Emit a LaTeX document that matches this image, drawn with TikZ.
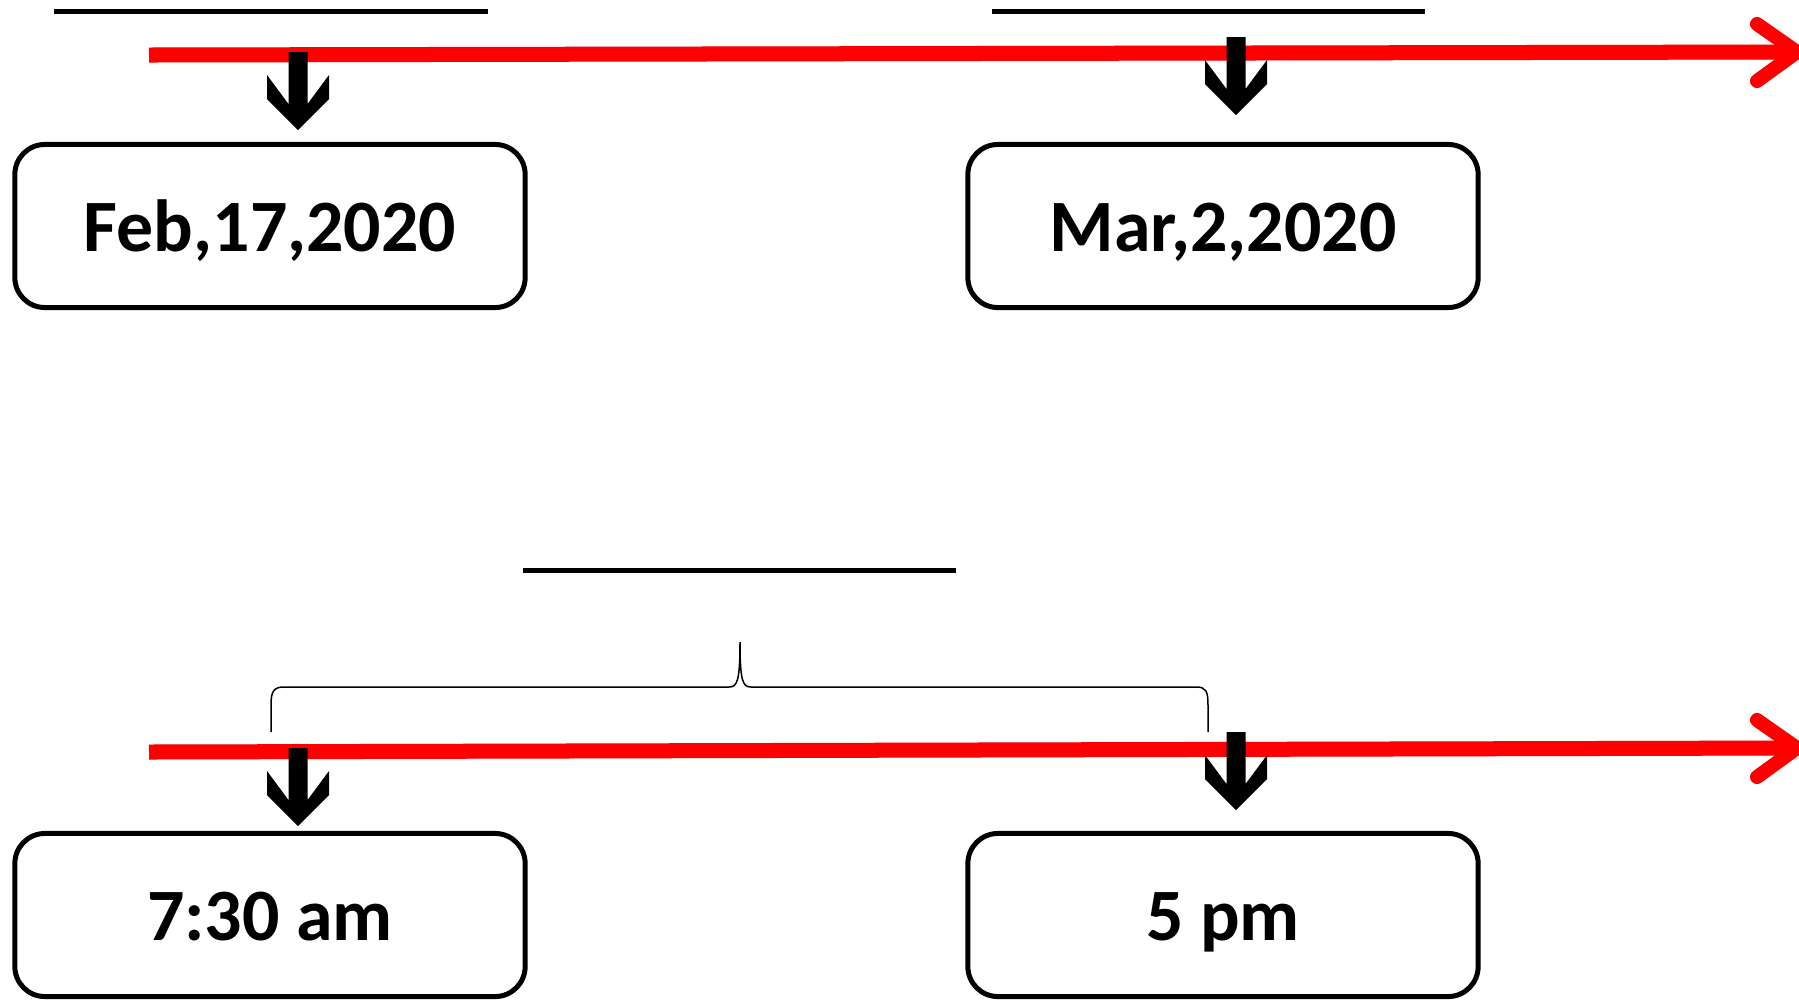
\documentclass[tikz,border=0pt]{standalone}
\usepackage{fontspec}
\setmainfont{Carlito}
\usepackage{tikz}
\usetikzlibrary{positioning}

\begin{document}
\begin{tikzpicture}[x=0.01cm, y=-0.01cm]
			\tikzstyle{Box}		= [rectangle, rounded corners=0.3cm, draw, line width=0.05cm, minimum width=5.1cm, minimum height=1.63cm, inner sep=0pt, text height=14.6pt, text depth=0pt, font=\fontsize{21}{25}\selectfont\bfseries]
			\tikzstyle{Blank}	= [line width=0.05cm, black]
			\tikzstyle{Axis}	= [line width=0.15cm, red]
			\tikzstyle{AxisHead}	= [line width=0.14cm, red, line cap=round, line join=round]
			\tikzstyle{Shadow}	= [gray!30, shift={(2,5)}]
			\tikzstyle{Pointer}	= [fill=black]
			\tikzstyle{Brace}	= [line width=0.015cm]

			\useasboundingbox (0,0) rectangle (1799,999);

			\node (d1) at (270,226) [Box] {Feb,17,2020};
			\node (d2) at (1223,226) [Box] {Mar,2,2020};
			\node (t1) at (270,915) [Box] {7:30 am};
			\node (t2) at (1223,915) [Box] {5 pm};

			\coordinate (s1) at (149,55);
			\coordinate (e1) at (1797,52);
			\coordinate (w1a) at (1757,24);
			\coordinate (w1b) at (1757,81);
			\coordinate (s2) at (149,752);
			\coordinate (e2) at (1797,748);
			\coordinate (w2a) at (1757,720);
			\coordinate (w2b) at (1757,777);

			\coordinate (p1) at (298,52);
			\coordinate (p2) at (1236,37);
			\coordinate (p3) at (298,748);
			\coordinate (p4) at (1236,732);

			% blanks
			\draw [Blank] (54,11) -- (488,11);
			\draw [Blank] (992,11) -- (1425,11);
			\draw [Blank] (523,570) -- (956,570);

			% time lines
			\draw [Axis][Shadow] (s1) -- (e1);
			\draw [AxisHead][Shadow] (w1a) -- (e1) -- (w1b);
			\draw [Axis] (s1) -- (e1);
			\draw [AxisHead] (w1a) -- (e1) -- (w1b);

			\draw [Axis][Shadow] (s2) -- (e2);
			\draw [AxisHead][Shadow] (w2a) -- (e2) -- (w2b);
			\draw [Axis] (s2) -- (e2);
			\draw [AxisHead] (w2a) -- (e2) -- (w2b);

			% pointers
			\fill [Pointer] (p1) ++(-9.5,0) -- ++(19,0) -- ++(0,52) -- ++(21.5,-29) -- ++(0,24) -- ++(-31,31) -- ++(-31,-31) -- ++(0,-24) -- ++(21.5,29) -- cycle;
			\fill [Pointer] (p2) ++(-9.5,0) -- ++(19,0) -- ++(0,52) -- ++(21.5,-29) -- ++(0,24) -- ++(-31,31) -- ++(-31,-31) -- ++(0,-24) -- ++(21.5,29) -- cycle;
			\fill [Pointer] (p3) ++(-9.5,0) -- ++(19,0) -- ++(0,52) -- ++(21.5,-29) -- ++(0,24) -- ++(-31,31) -- ++(-31,-31) -- ++(0,-24) -- ++(21.5,29) -- cycle;
			\fill [Pointer] (p4) ++(-9.5,0) -- ++(19,0) -- ++(0,52) -- ++(21.5,-29) -- ++(0,24) -- ++(-31,31) -- ++(-31,-31) -- ++(0,-24) -- ++(21.5,29) -- cycle;

			% brace
			\draw [Brace] (271,732) -- (271,705) .. controls (271,691) and (274,687) .. (284,687) -- (729,687) .. controls (737,687) and (740,682) .. (740,642) .. controls (740,682) and (743,687) .. (751,687) -- (1196,687) .. controls (1206,687) and (1208,691) .. (1208,705) -- (1208,732);
		\end{tikzpicture}
\end{document}
